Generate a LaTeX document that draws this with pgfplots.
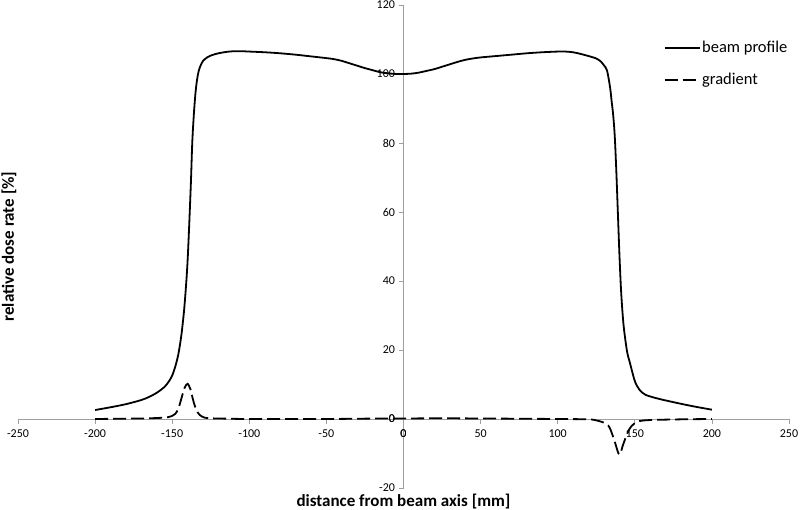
\documentclass[border=0pt]{standalone}
\usepackage{pgfplots}
\pgfplotsset{compat=1.18}
\usepackage{fontspec}
\setmainfont{Carlito}

\pgfplotstableread{
x y
-200 2.6
-190 3.4
-180 4.3
-170 5.5
-165 6.4
-160 7.6
-155 9.3
-152 11.0
-150 12.6
-148 15.2
-146 18.8
-144 24.5
-142 33
-140 46
-138 67
-137 80
-136 88
-135 94
-134 98
-133 100.5
-132 102
-130 103.8
-127 104.9
-124 105.5
-120 106
-115 106.4
-110 106.6
-105 106.6
-100 106.5
-90 106.3
-80 106
-70 105.6
-60 105.1
-50 104.6
-45 104.3
-40 103.8
-35 103.1
-30 102.4
-25 101.7
-20 101.1
-15 100.5
-10 100.2
-5 100
0 100
5 100.1
10 100.4
15 100.9
20 101.4
25 102.1
30 102.8
35 103.5
40 104.1
45 104.5
50 104.8
60 105.2
70 105.6
80 106
90 106.3
100 106.5
105 106.5
110 106.3
115 105.8
120 105.2
125 104.5
128 103.6
130 102.5
132 101
134 96
135 92
136 88
137 82
138 72
139 60
140 48
141 38
142 31
143 26
145 19.5
147 16
150 11
153 8.5
157 7
166 5.8
180 4.4
190 3.5
200 2.7
}\profile

\pgfplotstableread{
x y
-200 0
-180 0.1
-165 0.2
-155 0.4
-152 0.6
-150 0.9
-148 1.5
-146 3
-144 6
-142 9
-140 10.2
-138 8.4
-137 6.5
-136 4.8
-135 3.4
-134 2.3
-132 1.1
-129 0.4
-125 0.2
-115 0.1
-100 0
-50 0
-25 0.1
0 0.15
25 0.2
50 0.15
100 0
120 -0.1
125 -0.4
129 -0.9
132 -1.6
134 -2.8
137 -6.6
139 -9.5
140 -10.3
141 -9.6
142 -8
144 -5.5
146 -3.3
148 -2
150 -1.2
153 -0.6
160 -0.3
180 -0.1
200 0
}\gradient

\begin{document}
\begin{tikzpicture}
\path[use as bounding box] (-18pt,-22pt) rectangle (782pt,488pt);
\begin{axis}[
  scale only axis, width=771pt, height=483pt,
  xmin=-250, xmax=250, ymin=-20, ymax=120,
  axis lines=middle,
  axis line style={-, draw=gray!75, line width=0.8pt},
  xtick={-250,-200,...,250}, ytick={-20,0,...,120},
  extra x ticks={0}, extra y ticks={0},
  hide obscured x ticks=false, hide obscured y ticks=false,
  tick align=outside, major tick length=5pt,
  tick style={draw=gray!75, line width=0.8pt},
  ticklabel style={font=\fontsize{12}{14}\selectfont},
  xticklabel style={yshift=-2pt},
  /pgf/number format/assume math mode=true,
  xlabel={distance from beam axis [mm]},
  ylabel={relative dose rate [\%]},
  every axis x label/.style={at={(rel axis cs:0.5,0)}, anchor=center, yshift=-14pt, font=\fontsize{17}{20}\selectfont\bfseries},
  every axis y label/.style={at={(rel axis cs:0,0.5)}, xshift=-9pt, rotate=90, anchor=center, font=\fontsize{17}{20}\selectfont\bfseries},
  legend style={at={(rel axis cs:0.833,0.932)}, anchor=north west, draw=none, fill=none,
    font=\fontsize{16.5}{20}\selectfont, row sep=16pt, nodes={inner sep=1.5pt}},
  legend cell align=left,
  legend image code/.code={\draw[#1, black, line width=2.2pt] (0pt,0pt) -- (35pt,0pt);},
]
\addplot[black, line width=1.8pt, smooth] table[x=x, y=y] {\profile};
\addlegendentry{beam profile}
\addplot[black, line width=1.8pt, dash pattern=on 13pt off 5pt, smooth] table[x=x, y=y] {\gradient};
\addlegendentry{gradient}
\end{axis}
\end{tikzpicture}
\end{document}
